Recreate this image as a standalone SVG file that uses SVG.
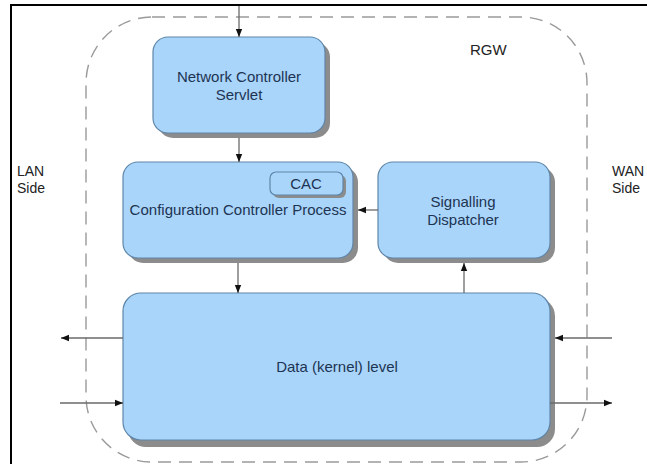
<svg xmlns="http://www.w3.org/2000/svg" width="647" height="464" viewBox="0 0 647 464">
<defs>
<style>
.box{fill:#a9d5fb;stroke:#5f86a8;stroke-width:1.2}
.shadow{fill:#8c8c8c}
.t{font-family:"Liberation Sans",Arial,sans-serif;font-size:15px;fill:#1d3452;text-anchor:middle}
.lbl{font-family:"Liberation Sans",Arial,sans-serif;font-size:14px;fill:#222}
.c{stroke:#6a6a6a;stroke-width:1.3;fill:none;marker-end:url(#ah)}
</style>
<marker id="ah" viewBox="0 0 10 10" refX="10" refY="5" markerWidth="8" markerHeight="8" markerUnits="userSpaceOnUse" orient="auto">
<path d="M0,1 L10,5 L0,9 Z" fill="#111"/>
</marker>
</defs>
<rect x="0" y="0" width="647" height="464" fill="#fff"/>
<rect x="11" y="5" width="700" height="520" fill="none" stroke="#000" stroke-width="2"/>
<rect id="rgw" x="86" y="17" width="501" height="445" rx="66" ry="66" fill="none" stroke="#9a9a9a" stroke-width="1.4" stroke-dasharray="13,8"/>
<text class="lbl" x="470" y="55" style="font-size:15px">RGW</text>
<text class="lbl" x="17" y="176">LAN</text>
<text class="lbl" x="17" y="193">Side</text>
<text class="lbl" x="612" y="176">WAN</text>
<text class="lbl" x="612" y="193">Side</text>

<g id="servlet">
<rect class="shadow" x="158" y="42" width="172" height="96" rx="15"/>
<rect class="box" x="153" y="37" width="172" height="96" rx="15"/>
<text class="t" x="239" y="82">Network Controller</text>
<text class="t" x="239" y="100">Servlet</text>
</g>
<g id="config">
<rect class="shadow" x="128" y="167" width="230" height="96" rx="15"/>
<rect class="box" x="123" y="162" width="230" height="96" rx="15"/>
<text class="t" x="238" y="215">Configuration Controller Process</text>
</g>
<g id="cac">
<rect class="shadow" x="273" y="175" width="73" height="23" rx="6"/>
<rect class="box" x="270" y="172" width="73" height="23" rx="6"/>
<text class="t" x="306" y="189">CAC</text>
</g>
<g id="signalling">
<rect class="shadow" x="383" y="167" width="172" height="96" rx="15"/>
<rect class="box" x="378" y="162" width="172" height="96" rx="15"/>
<text class="t" x="463" y="207">Signalling</text>
<text class="t" x="463" y="225">Dispatcher</text>
</g>
<g id="data">
<rect class="shadow" x="128" y="298" width="427" height="149" rx="18"/>
<rect class="box" x="123" y="293" width="427" height="147" rx="18"/>
<text class="t" x="337" y="372">Data (kernel) level</text>
</g>
<g id="connectors">
<line class="c" x1="239" y1="6" x2="239" y2="37"/>
<line class="c" x1="239" y1="138" x2="239" y2="162"/>
<line class="c" x1="378" y1="210" x2="358" y2="210"/>
<line class="c" x1="238" y1="263" x2="238" y2="293"/>
<line class="c" x1="464" y1="293" x2="464" y2="263"/>
<line class="c" x1="123" y1="338" x2="61" y2="338"/>
<line class="c" x1="60" y1="403" x2="123" y2="403"/>
<line class="c" x1="612" y1="338" x2="555" y2="338"/>
<line class="c" x1="550" y1="403" x2="612" y2="403"/>
</g>
</svg>
